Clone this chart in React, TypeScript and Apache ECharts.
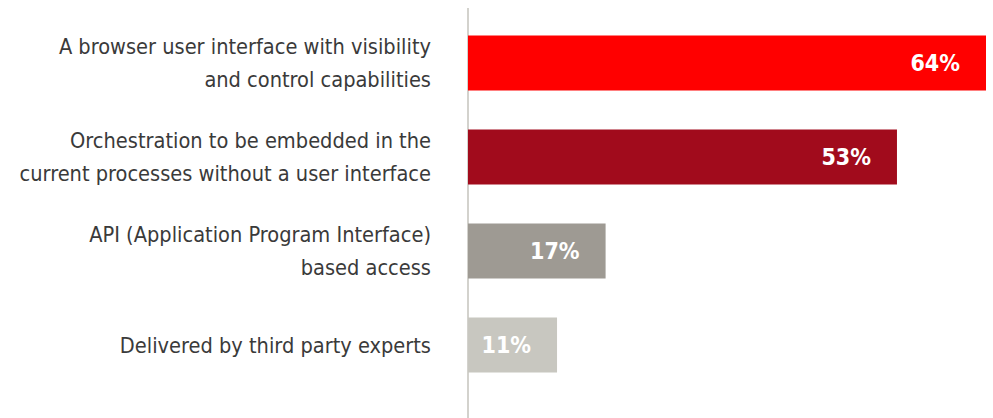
import React, { useEffect, useRef } from "react";
import * as echarts from "echarts";

const categories: string[] = [
  "A browser user interface with visibility\nand control capabilities",
  "Orchestration to be embedded in the\ncurrent processes without a user interface",
  "API (Application Program Interface)\nbased access",
  "Delivered by third party experts",
];
const values: number[] = [64, 53, 17, 11];
const barColors: string[] = ["#ff0000", "#a10b1c", "#9e9a93", "#c8c7c0"];

const FONT = "'Liberation Sans Narrow', 'DejaVu Sans Condensed', 'Liberation Sans', sans-serif";

export default function App() {
  const ref = useRef<HTMLDivElement>(null);
  useEffect(() => {
    if (!ref.current) return;
    const chart = echarts.init(ref.current, null, { renderer: "svg" });
    chart.setOption({
      animation: false,
      backgroundColor: "#ffffff",
      grid: { left: 468, right: 7, top: 16, bottom: 26, containLabel: false },
      xAxis: {
        type: "value",
        min: 0,
        max: 64,
        show: false,
      },
      yAxis: {
        type: "category",
        inverse: true,
        data: categories,
        axisLine: { show: false },
        axisTick: { show: false },
        splitLine: { show: false },
        axisLabel: {
          margin: 37,
          color: "#3a3a3a",
          fontFamily: FONT,
          fontSize: 21.6,
          lineHeight: 33,
          align: "right",
        },
      },
      graphic: [
        {
          type: "line",
          shape: { x1: 468, y1: 8, x2: 468, y2: 418 },
          style: { stroke: "#c4c3bd", lineWidth: 1.5 },
        },
      ],
      series: [
        {
          type: "bar",
          barWidth: 55,
          data: values.map((v, i) => ({ value: v, itemStyle: { color: barColors[i] } })),
          label: {
            show: true,
            position: "insideRight",
            distance: 26,
            formatter: "{c}%",
            color: "#ffffff",
            fontFamily: FONT,
            fontWeight: "bold",
            fontSize: 23,
          },
        },
      ],
    });
    return () => chart.dispose();
  }, []);
  return (
    <div
      ref={ref}
      style={{ position: "fixed", left: 0, top: 0, width: 993, height: 418 }}
    />
  );
}
